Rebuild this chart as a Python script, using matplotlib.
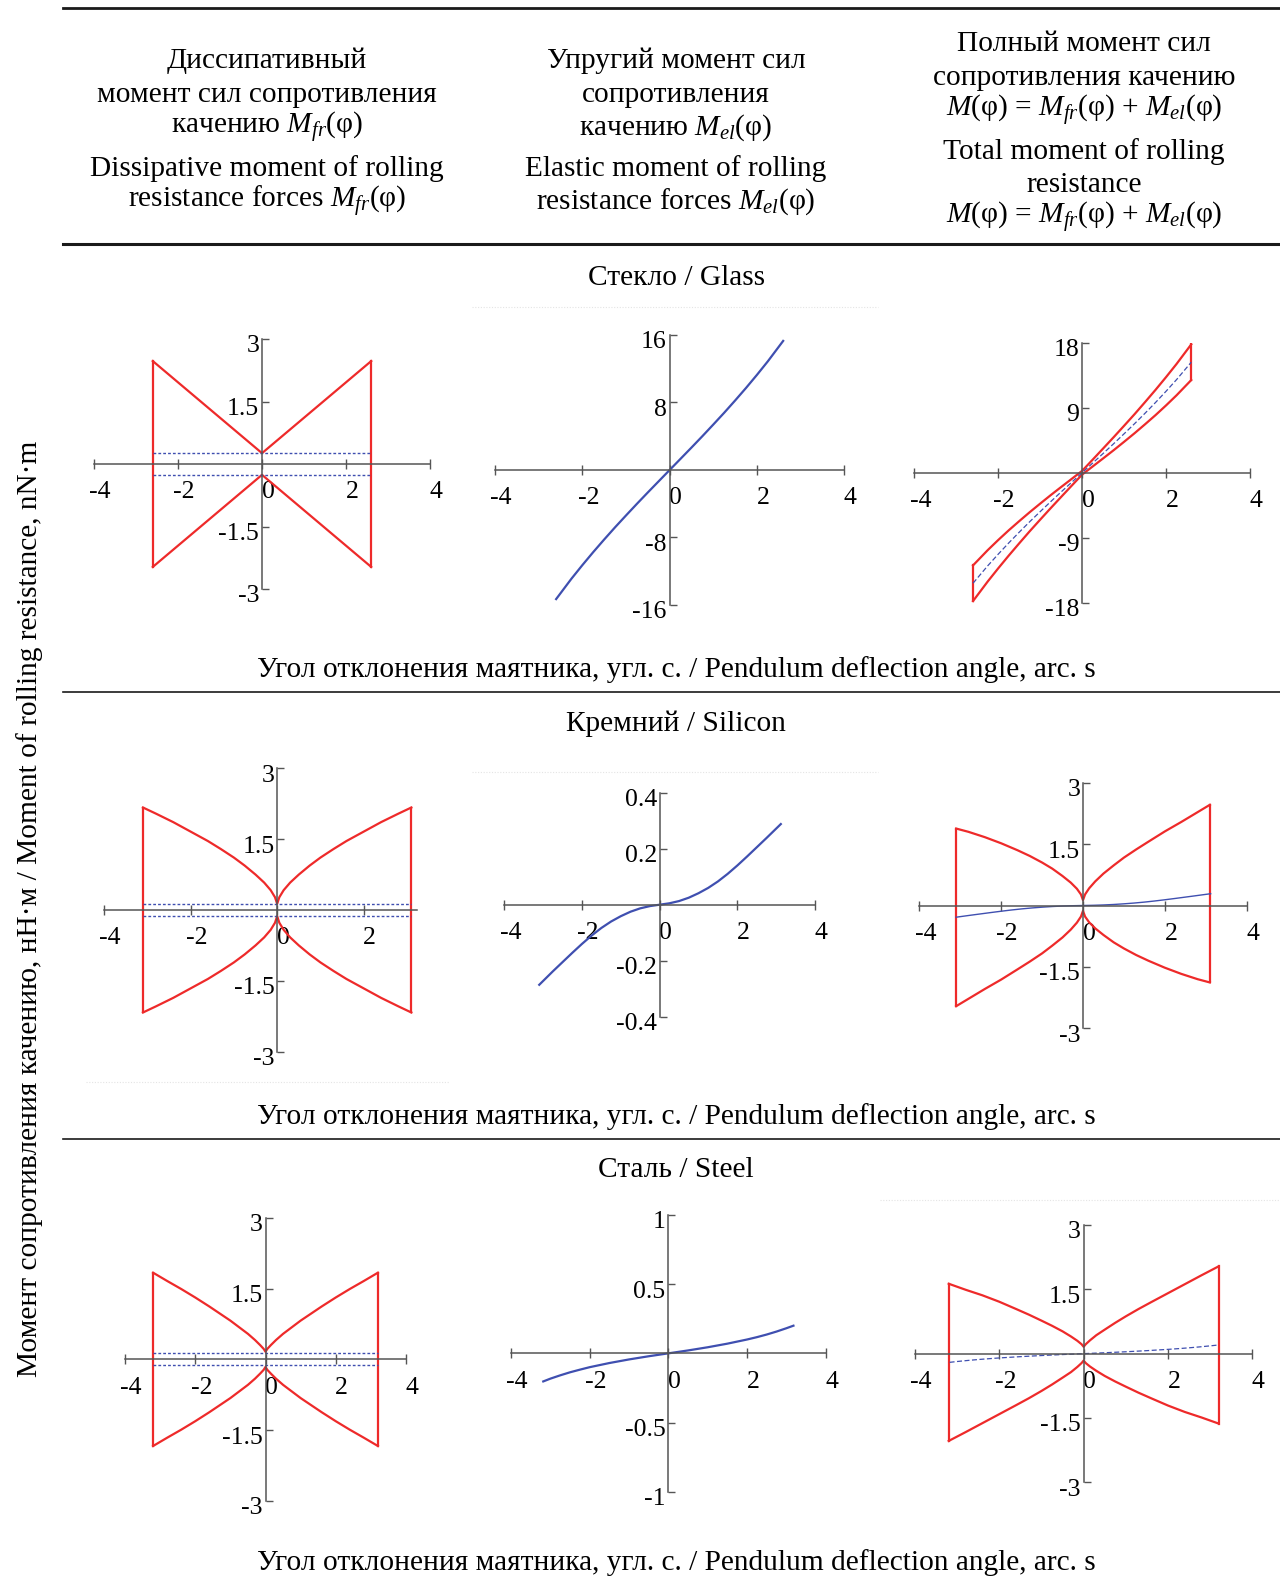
import matplotlib
matplotlib.use("Agg")
import matplotlib.pyplot as plt
from matplotlib.lines import Line2D
from matplotlib.transforms import ScaledTranslation

# ---------------- data ----------------
# Glass
glass_fr_phi = [-2.6, 0.0, 2.6]
glass_fr_up = [2.47, 0.26, 2.47]
glass_fr_low = [-2.47, -0.26, -2.47]
glass_fr_const = [0.26, -0.26]

glass_el_phi = [-2.6, -2.25, -2.0, -1.75, -1.5, -1.25, -1.0, -0.75, -0.5, -0.25, 0.0,
                0.25, 0.5, 0.75, 1.0, 1.25, 1.5, 1.75, 2.0, 2.25, 2.6]
glass_el_M = [-15.3, -12.89, -11.28, -9.73, -8.24, -6.79, -5.39, -4.01, -2.66, -1.33, 0.0,
              1.33, 2.66, 4.01, 5.39, 6.79, 8.24, 9.73, 11.28, 12.89, 15.3]

glass_tot_up = [-12.83, -10.72, -9.32, -7.98, -6.71, -5.47, -4.28, -3.11, -1.98, -0.86, 0.26,
                1.80, 3.35, 4.91, 6.50, 8.11, 9.78, 11.48, 13.24, 15.06, 17.77]
glass_tot_low = [-17.77, -15.06, -13.24, -11.48, -9.78, -8.11, -6.50, -4.91, -3.35, -1.80, -0.26,
                 0.86, 1.98, 3.11, 4.28, 5.47, 6.71, 7.98, 9.32, 10.72, 12.83]

# Silicon
si_fr_phi = [-3.1, -2.8, -2.4, -2.0, -1.6, -1.3, -1.0, -0.75, -0.5, -0.3, -0.15, -0.05, 0.0,
             0.05, 0.15, 0.3, 0.5, 0.75, 1.0, 1.3, 1.6, 2.0, 2.4, 2.8, 3.1]
si_fr_up = [2.17, 2.04, 1.86, 1.66, 1.46, 1.29, 1.11, 0.94, 0.75, 0.58, 0.42, 0.27, 0.13,
            0.27, 0.42, 0.58, 0.75, 0.94, 1.11, 1.29, 1.46, 1.66, 1.86, 2.04, 2.17]
si_fr_low = [-2.17, -2.04, -1.86, -1.66, -1.46, -1.29, -1.11, -0.94, -0.75, -0.58, -0.42, -0.27, -0.13,
             -0.27, -0.42, -0.58, -0.75, -0.94, -1.11, -1.29, -1.46, -1.66, -1.86, -2.04, -2.17]
si_fr_const = [0.12, -0.12]

si_el_phi = [-3.1, -2.75, -2.5, -2.25, -2.0, -1.75, -1.5, -1.25, -1.0, -0.75, -0.5, -0.25, 0.0,
             0.25, 0.5, 0.75, 1.0, 1.25, 1.5, 1.75, 2.0, 2.25, 2.5, 2.75, 3.12]
si_el_M = [-0.286, -0.238, -0.205, -0.172, -0.14, -0.11, -0.083, -0.06, -0.041, -0.025, -0.013, -0.005, 0.0,
           0.005, 0.013, 0.025, 0.041, 0.06, 0.083, 0.11, 0.14, 0.172, 0.205, 0.238, 0.288]

si_tot_up = [1.88, 1.80, 1.67, 1.52, 1.35, 1.21, 1.05, 0.90, 0.72, 0.56, 0.41, 0.27, 0.13,
             0.27, 0.42, 0.59, 0.78, 0.98, 1.17, 1.37, 1.56, 1.81, 2.04, 2.28, 2.46]
si_tot_low = [-2.46, -2.28, -2.04, -1.81, -1.56, -1.37, -1.17, -0.98, -0.78, -0.59, -0.42, -0.27, -0.13,
              -0.27, -0.41, -0.56, -0.72, -0.90, -1.05, -1.21, -1.35, -1.52, -1.67, -1.80, -1.88]

# Steel
st_fr_phi = [-3.2, -2.8, -2.4, -2.0, -1.6, -1.3, -1.0, -0.75, -0.5, -0.3, -0.15, -0.05, 0.0,
             0.05, 0.15, 0.3, 0.5, 0.75, 1.0, 1.3, 1.6, 2.0, 2.4, 2.8, 3.2]
st_fr_up = [1.835, 1.66, 1.49, 1.31, 1.12, 0.97, 0.82, 0.68, 0.54, 0.41, 0.30, 0.22, 0.16,
            0.22, 0.30, 0.41, 0.54, 0.68, 0.82, 0.97, 1.12, 1.31, 1.49, 1.66, 1.835]
st_fr_low = [-1.835, -1.66, -1.49, -1.31, -1.12, -0.97, -0.82, -0.68, -0.54, -0.41, -0.30, -0.22, -0.16,
             -0.22, -0.30, -0.41, -0.54, -0.68, -0.82, -0.97, -1.12, -1.31, -1.49, -1.66, -1.835]
st_fr_const = [0.13, -0.13]

st_el_phi = [-3.18, -3.0, -2.75, -2.5, -2.25, -2.0, -1.5, -1.0, -0.5, 0.0,
             0.5, 1.0, 1.5, 2.0, 2.25, 2.5, 2.75, 3.0, 3.18]
st_el_M = [-0.203, -0.183, -0.159, -0.137, -0.118, -0.1, -0.07, -0.044, -0.021, 0.0,
           0.021, 0.044, 0.07, 0.1, 0.117, 0.136, 0.1575, 0.1815, 0.2]

st_tot_up = [1.63, 1.49, 1.36, 1.21, 1.04, 0.91, 0.77, 0.65, 0.52, 0.40, 0.30, 0.22, 0.16,
             0.22, 0.31, 0.43, 0.56, 0.72, 0.87, 1.04, 1.20, 1.41, 1.62, 1.83, 2.035]
st_tot_low = [-2.035, -1.83, -1.62, -1.41, -1.20, -1.04, -0.87, -0.72, -0.56, -0.43, -0.31, -0.22, -0.16,
              -0.22, -0.30, -0.40, -0.52, -0.65, -0.77, -0.91, -1.04, -1.21, -1.36, -1.49, -1.63]

# ticks
x_ticks = [-4, -2, 0, 2, 4]
x_ticks_short = [-4, -2, 0, 2]
y_ticks_3 = [-3, -1.5, 1.5, 3]
y_labels_3 = ["-3", "-1.5", "1.5", "3"]
y_ticks_16 = [-16, -8, 8, 16]
y_labels_16 = ["-16", "-8", "8", "16"]
y_ticks_18 = [-18, -9, 9, 18]
y_labels_18 = ["-18", "-9", "9", "18"]
y_ticks_04 = [-0.4, -0.2, 0.2, 0.4]
y_labels_04 = ["-0.4", "-0.2", "0.2", "0.4"]
y_ticks_1 = [-1, -0.5, 0.5, 1]
y_labels_1 = ["-1", "-0.5", "0.5", "1"]

header_ru = [
    ["Диссипативный", "момент сил сопротивления", r"качению $M_{fr}$(φ)"],
    ["Упругий момент сил", "сопротивления", r"качению $M_{el}$(φ)"],
]
header_en = [
    ["Dissipative moment of rolling", r"resistance forces $M_{fr}$(φ)"],
    ["Elastic moment of rolling", r"resistance forces $M_{el}$(φ)"],
]
header_total = ["Полный момент сил", "сопротивления качению",
                r"$M$(φ) = $M_{fr}$(φ) + $M_{el}$(φ)",
                "Total moment of rolling", "resistance",
                r"$M$(φ) = $M_{fr}$(φ) + $M_{el}$(φ)"]
row_titles = ["Стекло / Glass", "Кремний / Silicon", "Сталь / Steel"]
x_title = "Угол отклонения маятника, угл. с. / Pendulum deflection angle, arc. s"
y_title = "Момент сопротивления качению, нН·м / Moment of rolling resistance, nN·m"

# ---------------- style ----------------
plt.rcParams['font.family'] = ['Liberation Serif', 'DejaVu Serif']
plt.rcParams['mathtext.fontset'] = 'custom'
plt.rcParams['mathtext.rm'] = 'Liberation Serif'
plt.rcParams['mathtext.it'] = 'Liberation Serif:italic'

RED = '#ee2a2a'
BLUE = '#3f4fb0'
AX = '#555555'
FS = 21.2
TFS = 18.5

W, H = 1280, 1582
fig = plt.figure(figsize=(W / 100, H / 100), dpi=100)


def fx(x):
    return x / W


def fy(y):
    return 1 - y / H


def panel(box, xlim, ylim, xt, yt, ylab):
    x0, x1, ytop, ybot = box
    ax = fig.add_axes([fx(x0), fy(ybot), (x1 - x0) / W, (ybot - ytop) / H])
    ax.set_xlim(*xlim)
    ax.set_ylim(*ylim)
    ax.patch.set_visible(False)
    ax.spines['top'].set_visible(False)
    ax.spines['right'].set_visible(False)
    ax.spines['left'].set_position(('data', 0))
    ax.spines['bottom'].set_position(('data', 0))
    for s in ['left', 'bottom']:
        ax.spines[s].set_color(AX)
        ax.spines[s].set_linewidth(1.1)
    ax.set_xticks(xt)
    ax.set_xticklabels([str(v) for v in xt])
    ax.set_yticks(yt)
    ax.set_yticklabels(ylab)
    ax.tick_params(axis='x', direction='inout', length=7, width=1, color=AX,
                   pad=9, labelsize=TFS)
    ax.tick_params(axis='y', direction='in', length=5, width=1, color=AX,
                   pad=2, labelsize=TFS)
    dx = ScaledTranslation(6 / 100, 0, fig.dpi_scale_trans)
    dy = ScaledTranslation(0, -5 / 100, fig.dpi_scale_trans)
    for lab in ax.get_xticklabels():
        lab.set_transform(lab.get_transform() + dx)
    for lab in ax.get_yticklabels():
        lab.set_transform(lab.get_transform() + dy)
    return ax


def draw_loop(ax, phi, up, low):
    ax.plot(phi, up, color=RED, lw=1.6)
    ax.plot(phi, low, color=RED, lw=1.6)
    ax.plot([phi[0], phi[0]], [low[0], up[0]], color=RED, lw=1.6)
    ax.plot([phi[-1], phi[-1]], [low[-1], up[-1]], color=RED, lw=1.6)


def draw_fr(ax, phi, up, low, const):
    draw_loop(ax, phi, up, low)
    for c in const:
        ax.plot([phi[0], phi[-1]], [c, c], color=BLUE, lw=1.0, ls=(0, (2, 1.5)))


# ---- row 1: glass
ax = panel((94, 430, 339, 589), (-4, 4), (-3, 3), x_ticks, y_ticks_3, y_labels_3)
draw_fr(ax, glass_fr_phi, glass_fr_up, glass_fr_low, glass_fr_const)
ax = panel((495, 844.3, 335, 605), (-4, 4), (-16, 16), x_ticks, y_ticks_16, y_labels_16)
ax.plot(glass_el_phi, glass_el_M, color=BLUE, lw=1.6)
ax = panel((914.3, 1250, 342.7, 602.7), (-4, 4), (-18, 18), x_ticks, y_ticks_18, y_labels_18)
draw_loop(ax, glass_el_phi, glass_tot_up, glass_tot_low)
ax.plot(glass_el_phi, glass_el_M, color=BLUE, lw=0.9, ls=(0, (4, 2)))

# ---- row 2: silicon
ax = panel((104, 417, 768.3, 1051.7), (-4, 3.23), (-3, 3), x_ticks_short, y_ticks_3, y_labels_3)
draw_fr(ax, si_fr_phi, si_fr_up, si_fr_low, si_fr_const)
ax = panel((504.3, 815, 792.7, 1016.7), (-4, 4), (-0.4, 0.4), x_ticks, y_ticks_04, y_labels_04)
ax.plot(si_el_phi, si_el_M, color=BLUE, lw=1.6)
ax = panel((919.3, 1246.7, 782.7, 1028.3), (-4, 4), (-3, 3), x_ticks, y_ticks_3, y_labels_3)
draw_loop(ax, si_fr_phi, si_tot_up, si_tot_low)
ax.plot(si_el_phi, si_el_M, color=BLUE, lw=1.0)

# ---- row 3: steel
ax = panel((125, 406, 1217.7, 1501), (-4, 4), (-3, 3), x_ticks, y_ticks_3, y_labels_3)
draw_fr(ax, st_fr_phi, st_fr_up, st_fr_low, st_fr_const)
ax = panel((511, 825.7, 1215, 1491.7), (-4, 4), (-1, 1), x_ticks, y_ticks_1, y_labels_1)
ax.plot(st_el_phi, st_el_M, color=BLUE, lw=1.6)
ax = panel((915, 1252.3, 1225, 1482.3), (-4, 4), (-3, 3), x_ticks, y_ticks_3, y_labels_3)
draw_loop(ax, st_fr_phi, st_tot_up, st_tot_low)
ax.plot(st_el_phi, st_el_M, color=BLUE, lw=0.9, ls=(0, (4, 2)))

# ---------------- table rules ----------------
for y, lw in [(8, 2.0), (244, 2.2), (692, 1.2), (1139, 1.2)]:
    fig.add_artist(Line2D([fx(63), 1.0], [fy(y), fy(y)], color='#1a1a1a', lw=lw))
for x0, x1, y in [(472, 878, 306.6), (472, 878, 772), (86, 449, 1082), (880, 1280, 1200)]:
    fig.add_artist(Line2D([fx(x0), fx(x1)], [fy(y), fy(y)], color='#e4e4e4',
                          lw=0.8, ls=(0, (1, 1.5))))

# ---------------- header ----------------
ru_y = [60.5, 94.8, 128]
en_y = [168.4, 201.7]
for cx, ru, en in zip([267, 676], header_ru, header_en):
    for t, y in zip(ru, ru_y):
        fig.text(fx(cx), fy(y), t, ha='center', va='center', fontsize=FS)
    for t, y in zip(en, en_y):
        fig.text(fx(cx), fy(y), t, ha='center', va='center', fontsize=FS)
for t, y in zip(header_total, [44.4, 77.6, 111, 151.3, 184.6, 217.9]):
    fig.text(fx(1084), fy(y), t, ha='center', va='center', fontsize=FS)

# ---------------- row titles / axis titles ----------------
for t, y in zip(row_titles, [278, 724, 1170]):
    fig.text(fx(676), fy(y), t, ha='center', va='center', fontsize=FS)
for y in [670, 1117, 1563]:
    fig.text(fx(676), fy(y), x_title, ha='center', va='center', fontsize=FS)
fig.text(fx(30), fy(909), y_title, ha='center', va='center', rotation=90, fontsize=FS)

fig.savefig('out.png', dpi=100)
